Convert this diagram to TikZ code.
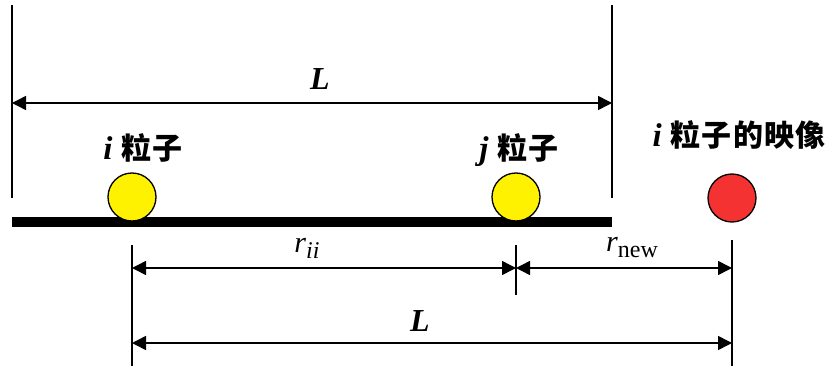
\documentclass[tikz,border=0pt]{standalone}
\usepackage{fontspec}
\setmainfont{Liberation Serif}
\newfontfamily\cjk[LetterSpace=4]{Noto Sans CJK SC}
\usetikzlibrary{arrows.meta}
\newcommand{\subfont}{\fontsize{24}{26}\selectfont}
\newcommand{\varbig}[1]{{\fontsize{33}{36}\selectfont\textbf{\textit{#1}}}}
\begin{document}
\begin{tikzpicture}[x=1pt,y=-1pt,
  ln/.style={line width=1.5pt,black},
  dim/.style={line width=1.5pt,{Triangle[length=14pt,width=14pt]}-{Triangle[length=14pt,width=14pt]}},
  ball/.style={circle,draw=black,line width=1.3pt,minimum size=48pt,inner sep=0pt},
  lbl/.style={font=\fontsize{30}{34}\selectfont,inner sep=0pt},
  biglbl/.style={font=\fontsize{32}{36}\selectfont,inner sep=0pt}]
\useasboundingbox (0,0) rectangle (830,369);
% walls
\coordinate (lt) at (12,5); \coordinate (lb) at (12,198);
\coordinate (rt) at (612,5); \coordinate (rb) at (612,198);
\draw[ln] (lt) -- (lb);
\draw[ln] (rt) -- (rb);
\coordinate (al) at (12,103); \coordinate (ar) at (612,103);
\draw[dim] (al) -- (ar);
\node[biglbl] (Ltop) at (320,79) {\textbf{\textit{L}}};
% bar
\fill[black] (12,217) rectangle (612,227);
% balls
\node[ball,fill=yellow] (bi) at (132,197) {};
\node[ball,fill=yellow] (bj) at (516,197) {};
\node[ball,fill={rgb,255:red,245;green,50;blue,50}] (bk) at (732,198) {};
\node[lbl] (ti) at (143,148) {\varbig{i}\hspace{9pt}{\cjk\bfseries 粒子}};
\node[lbl] (tj) at (519,150) {\varbig{j}\hspace{9pt}{\cjk\bfseries 粒子}};
\node[lbl] (tk) at (739,135) {\varbig{i}\hspace{9pt}{\cjk\bfseries 粒子的映像}};
% bottom dimensions
\coordinate (v1t) at (132,245); \coordinate (v1b) at (132,366);
\coordinate (v2t) at (516,245); \coordinate (v2b) at (516,295);
\coordinate (v3t) at (732,240); \coordinate (v3b) at (732,366);
\draw[ln] (v1t) -- (v1b);
\draw[ln] (v2t) -- (v2b);
\draw[ln] (v3t) -- (v3b);
\coordinate (d1) at (132,268); \coordinate (d2) at (516,268); \coordinate (d3) at (732,268);
\draw[dim] (d1) -- (d2);
\draw[dim] (d2) -- (d3);
\coordinate (e1) at (132,343); \coordinate (e2) at (732,343);
\draw[dim] (e1) -- (e2);
\node[lbl] (rii) at (307,248) {\textit{r}\raisebox{-6pt}{\subfont\textit{ii}}};
\node[lbl] (rnew) at (632,248) {\textit{r}\raisebox{-6pt}{\subfont new}};
\node[biglbl] (Lbot) at (420,321) {\textbf{\textit{L}}};
\end{tikzpicture}
\end{document}
